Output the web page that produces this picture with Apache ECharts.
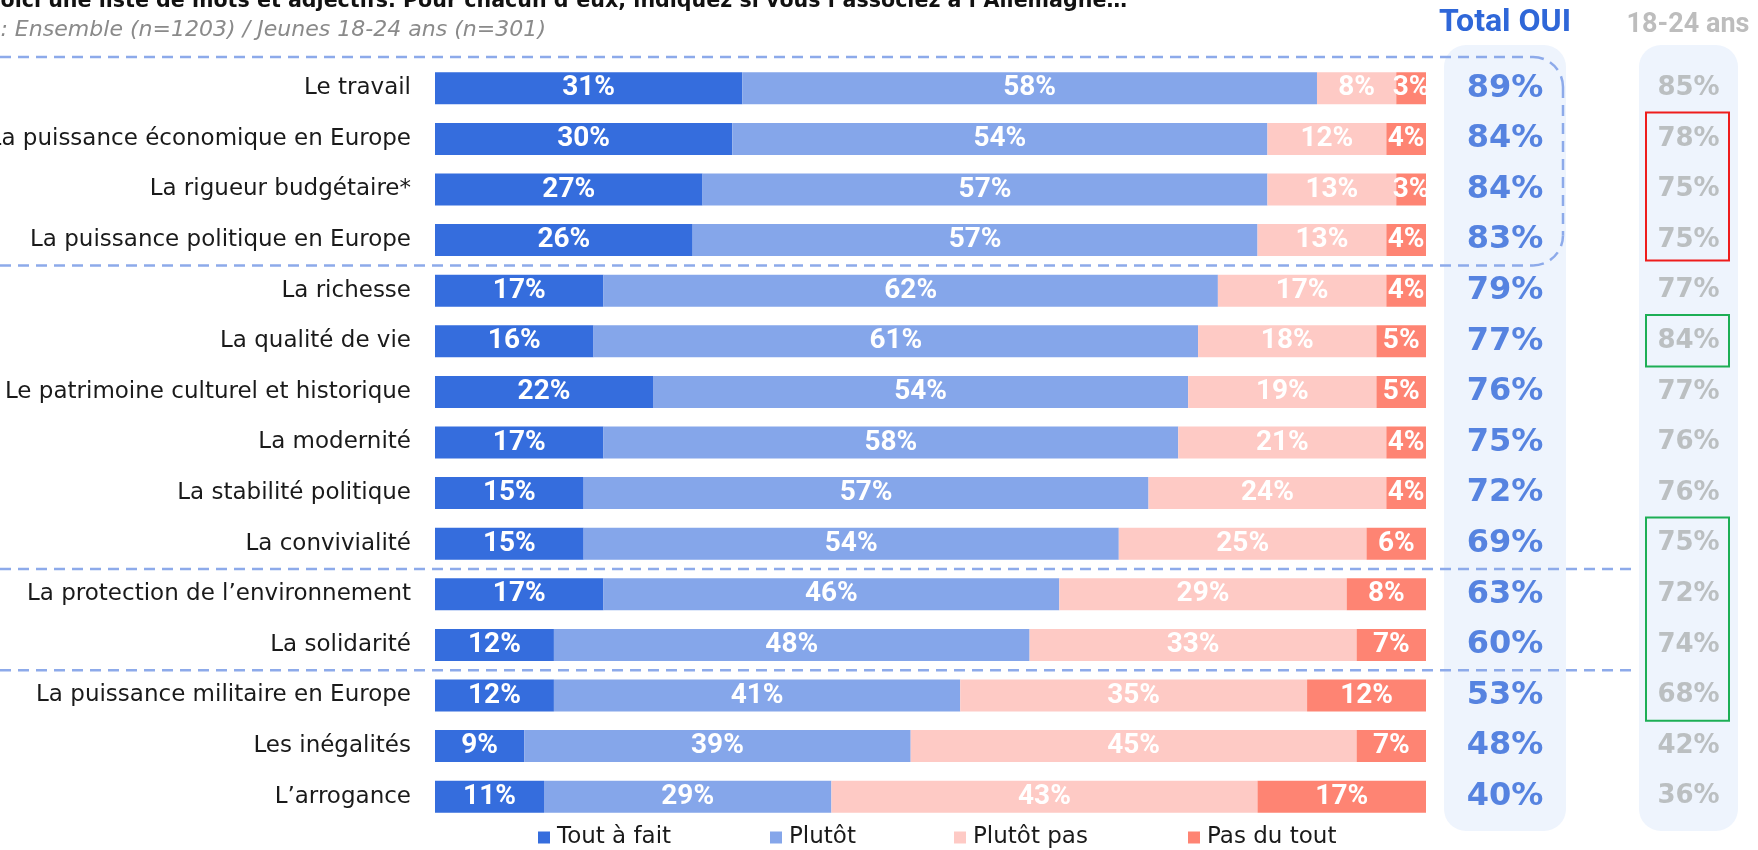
<!DOCTYPE html>
<html><head><meta charset="utf-8">
<script src="https://cdn.jsdelivr.net/npm/echarts@6/dist/echarts.min.js"></script>
<style>html,body{margin:0;padding:0;background:#fff}#c{width:1758px;height:850px}</style>
</head><body><div id="c"></div>
<script>
const categories = [
  'Le travail',
  'La puissance économique en Europe',
  'La rigueur budgétaire*',
  'La puissance politique en Europe',
  'La richesse',
  'La qualité de vie',
  'Le patrimoine culturel et historique',
  'La modernité',
  'La stabilité politique',
  'La convivialité',
  'La protection de l’environnement',
  'La solidarité',
  'La puissance militaire en Europe',
  'Les inégalités',
  'L’arrogance'
];
const seriesNames = ['Tout à fait', 'Plutôt', 'Plutôt pas', 'Pas du tout'];
const toutAFait = [31, 30, 27, 26, 17, 16, 22, 17, 15, 15, 17, 12, 12, 9, 11];
const plutot    = [58, 54, 57, 57, 62, 61, 54, 58, 57, 54, 46, 48, 41, 39, 29];
const plutotPas = [8, 12, 13, 13, 17, 18, 19, 21, 24, 25, 29, 33, 35, 45, 43];
const pasDuTout = [3, 4, 3, 4, 4, 5, 5, 4, 4, 6, 8, 7, 12, 7, 17];
const totalOui  = [89, 84, 84, 83, 79, 77, 76, 75, 72, 69, 63, 60, 53, 48, 40];
const jeunes    = [85, 78, 75, 75, 77, 84, 77, 76, 76, 75, 72, 74, 68, 42, 36];
const headerTotal = 'Total OUI';
const headerJeunes = '18-24 ans';
const titleText = 'Voici une liste de mots et adjectifs. Pour chacun d’eux, indiquez si vous l’associez à l’Allemagne…';
const titleVisible = 'oici une liste de mots et adjectifs. Pour chacun d’eux, indiquez si vous l’associez à l’Allemagne…';
const subText = 'Base : Ensemble (n=1203) / Jeunes 18-24 ans (n=301)';
const subVisible = ': Ensemble (n=1203) / Jeunes 18-24 ans (n=301)';

const colors = ['#356DDD', '#85A6EA', '#FECAC5', '#FE8473'];
const G = { left: 435, width: 991, top: 63, height: 759 };
const band = G.height / categories.length;
const rowTop = i => G.top + i * band;

function measure(font, text) {
  const c = document.createElement('canvas').getContext('2d');
  c.font = font; return c.measureText(text).width;
}
const titleSize = 100 * 1127 / measure('bold 100px "DejaVu Sans"', titleVisible);
const subSize = 100 * 546 / measure('italic 100px "DejaVu Sans"', subVisible);

const chart = echarts.init(document.getElementById('c'), null, { renderer: 'canvas' });

const barData = [toutAFait, plutot, plutotPas, pasDuTout];
const series = barData.map((d, k) => ({
  name: seriesNames[k], type: 'bar', stack: 'all', barWidth: 32,
  xAxisIndex: 0, yAxisIndex: 0, data: d,
  itemStyle: { color: colors[k] },
  label: { show: true, position: 'inside', formatter: '{c}%', color: '#fff',
    fontFamily: 'Roboto', fontWeight: 'bold', fontSize: 28 }
}));
series.push({
  type: 'scatter', xAxisIndex: 1, yAxisIndex: 1, symbolSize: 1,
  itemStyle: { color: 'rgba(0,0,0,0)' },
  data: totalOui.map((v, i) => [0.5, i, v]),
  label: { show: true, position: 'inside', formatter: p => p.value[2] + '%',
    color: '#2F67D8', fontFamily: 'DejaVu Sans', fontWeight: 'bold', fontSize: 32 }
});
series.push({
  type: 'scatter', xAxisIndex: 2, yAxisIndex: 2, symbolSize: 1,
  itemStyle: { color: 'rgba(0,0,0,0)' },
  data: jeunes.map((v, i) => [0.5, i, v]),
  label: { show: true, position: 'inside', formatter: p => p.value[2] + '%',
    color: '#AEB2B2', fontFamily: 'DejaVu Sans', fontWeight: 'bold', fontSize: 26 }
});

const legendLefts = [538, 770, 954, 1188];
const legends = seriesNames.map((n, k) => ({
  data: [n], left: legendLefts[k], top: 826, padding: 0, icon: 'rect',
  itemWidth: 12, itemHeight: 12, itemGap: 0, selectedMode: false,
  textStyle: { fontSize: 23, fontFamily: 'DejaVu Sans', color: '#1a1a1a', padding: [0, 0, 0, 2] }
}));

const dashStyle = { stroke: '#8DAAEA', lineWidth: 2.5, lineDash: [11, 7], fill: null };
const bx = 1563, ty = 57, by = rowTop(4), r = 30;

const graphic = [
  { type: 'rect', z: 0, shape: { x: 1444, y: 45, width: 122, height: 786, r: 22 }, style: { fill: '#EEF4FD' } },
  { type: 'rect', z: 0, shape: { x: 1639, y: 45, width: 99, height: 786, r: 22 }, style: { fill: '#EEF4FD' } },
  { type: 'line', z: 5, shape: { x1: 0, y1: ty, x2: bx - r, y2: ty }, style: dashStyle },
  { type: 'arc', z: 5, shape: { cx: bx - r, cy: ty + r, r: r, startAngle: -Math.PI / 2, endAngle: 0, clockwise: true }, style: dashStyle },
  { type: 'line', z: 5, shape: { x1: bx, y1: ty + r, x2: bx, y2: by - r }, style: dashStyle },
  { type: 'arc', z: 5, shape: { cx: bx - r, cy: by - r, r: r, startAngle: 0, endAngle: Math.PI / 2, clockwise: true }, style: dashStyle },
  { type: 'line', z: 5, shape: { x1: 0, y1: by, x2: bx - r, y2: by }, style: dashStyle },
  { type: 'line', z: 5, shape: { x1: 0, y1: rowTop(10), x2: 1638, y2: rowTop(10) }, style: dashStyle },
  { type: 'line', z: 5, shape: { x1: 0, y1: rowTop(12), x2: 1638, y2: rowTop(12) }, style: dashStyle },
  { type: 'rect', z: 5, shape: { x: 1646, y: rowTop(1) - 1, width: 83, height: rowTop(4) - rowTop(1) - 4 }, style: { fill: null, stroke: '#EE1C1C', lineWidth: 2 } },
  { type: 'rect', z: 5, shape: { x: 1646, y: rowTop(5) - 1, width: 83, height: band + 1 }, style: { fill: null, stroke: '#1DAE55', lineWidth: 2 } },
  { type: 'rect', z: 5, shape: { x: 1646, y: rowTop(9) - 1, width: 83, height: rowTop(13) - rowTop(9) + 1 }, style: { fill: null, stroke: '#1DAE55', lineWidth: 2 } },
  { type: 'text', z: 5, style: { text: headerTotal, x: 1505, y: 23, textAlign: 'center', textVerticalAlign: 'middle', fill: '#2F67D8', fontFamily: 'Roboto', fontWeight: 'bold', fontSize: 32 } },
  { type: 'text', z: 5, style: { text: headerJeunes, x: 1688, y: 25, textAlign: 'center', textVerticalAlign: 'middle', fill: '#BDBDBD', fontFamily: 'Roboto', fontWeight: 'bold', fontSize: 27 } },
  { type: 'text', z: 5, style: { text: titleText, x: 1127, y: 2, textAlign: 'right', textVerticalAlign: 'middle', fill: '#111', fontFamily: 'DejaVu Sans', fontWeight: 'bold', fontSize: titleSize } },
  { type: 'text', z: 5, style: { text: subText, x: 546, y: 30, textAlign: 'right', textVerticalAlign: 'middle', fill: '#8A8A8A', fontFamily: 'DejaVu Sans', fontStyle: 'italic', fontSize: subSize } }
];

chart.setOption({
  animation: false,
  backgroundColor: '#fff',
  grid: [
    { left: G.left, width: G.width, top: G.top, height: G.height, containLabel: false, outerBoundsMode: 'none' },
    { left: 1444, width: 122, top: G.top, height: G.height, outerBoundsMode: 'none' },
    { left: 1639, width: 99, top: G.top, height: G.height, outerBoundsMode: 'none' }
  ],
  xAxis: [
    { type: 'value', gridIndex: 0, min: 0, max: 100, show: false },
    { type: 'value', gridIndex: 1, min: 0, max: 1, show: false },
    { type: 'value', gridIndex: 2, min: 0, max: 1, show: false }
  ],
  yAxis: [
    { type: 'category', gridIndex: 0, data: categories, inverse: true,
      axisLine: { show: false }, axisTick: { show: false }, splitLine: { show: false },
      axisLabel: { fontSize: 23, fontFamily: 'DejaVu Sans', color: '#1a1a1a', margin: 24 } },
    { type: 'category', gridIndex: 1, data: categories, inverse: true, show: false },
    { type: 'category', gridIndex: 2, data: categories, inverse: true, show: false }
  ],
  legend: legends,
  graphic: graphic,
  series: series
});
</script></body></html>
